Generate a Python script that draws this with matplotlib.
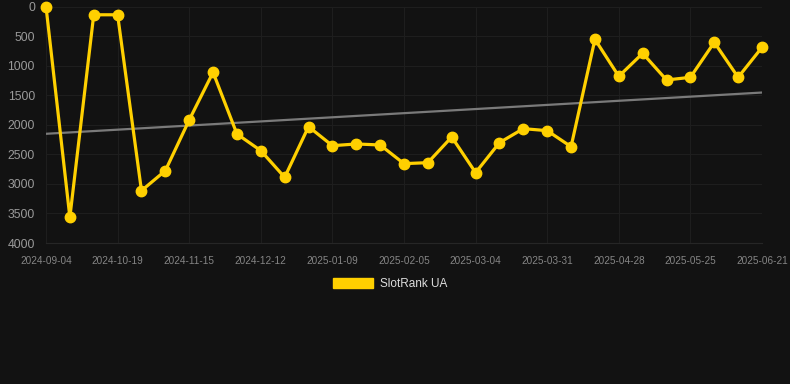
import numpy as np
import matplotlib.pyplot as plt

# weekly rank values for SlotRank UA (lower is better, axis is inverted)
ranks = [0, 3565, 140, 140, 3115, 2777, 1920, 1113, 2156, 2438,
         2889, 2032, 2354, 2325, 2342, 2658, 2641, 2207, 2810, 2303,
         2066, 2100, 2371, 555, 1181, 792, 1243, 1198, 606, 1198, 691]
tick_labels = ['2024-09-04', '2024-10-19', '2024-11-15', '2024-12-12',
               '2025-01-09', '2025-02-05', '2025-03-04', '2025-03-31',
               '2025-04-28', '2025-05-25', '2025-06-21']
y_ticks = [0, 500, 1000, 1500, 2000, 2500, 3000, 3500, 4000]

BG = '#121212'
YELLOW = '#ffd000'

plt.rcParams['font.family'] = ['Liberation Sans', 'DejaVu Sans']

fig = plt.figure(figsize=(7.9, 3.84), dpi=100, facecolor=BG)
ax = fig.add_axes([46 / 790, 1 - 243 / 384, (762 - 46) / 790, (243 - 6.5) / 384])
ax.set_facecolor(BG)

x = np.arange(len(ranks))
y = np.array(ranks)

# linear trend
k, b = np.polyfit(x, y, 1)
ax.plot(x, k * x + b, color='#7a7a7a', lw=1.6, zorder=2)

ax.plot(x, y, color=YELLOW, lw=2.3, marker='o', ms=7.5, zorder=3,
        clip_on=False, solid_joinstyle='miter', label='SlotRank UA')

ax.set_xlim(0, len(ranks) - 1)
ax.set_ylim(4000, 0)
ax.set_yticks(y_ticks)
ax.set_yticklabels([str(v) for v in y_ticks])
ax.set_xticks(x[::3])
ax.set_xticklabels(tick_labels)

ax.grid(True, color='#1e1e1e', lw=0.8)
ax.set_axisbelow(True)
for s in ['top', 'right', 'left']:
    ax.spines[s].set_visible(False)
ax.spines['bottom'].set_color('#262626')

ax.tick_params(axis='y', colors='#9a9a9a', labelsize=8.8, length=0, pad=8)
ax.tick_params(axis='x', colors='#858585', labelsize=7.2, length=0, pad=9)

leg = fig.legend(handles=[plt.Rectangle((0, 0), 1, 1, color=YELLOW)],
                 labels=['SlotRank UA'], loc='center', bbox_to_anchor=(0.494, 1 - 284 / 384),
                 frameon=False, fontsize=8.5, handlelength=3.4, handleheight=0.95,
                 handletextpad=0.6)
for t in leg.get_texts():
    t.set_color('#dddddd')

fig.savefig('out.png', dpi=100, facecolor=BG)
